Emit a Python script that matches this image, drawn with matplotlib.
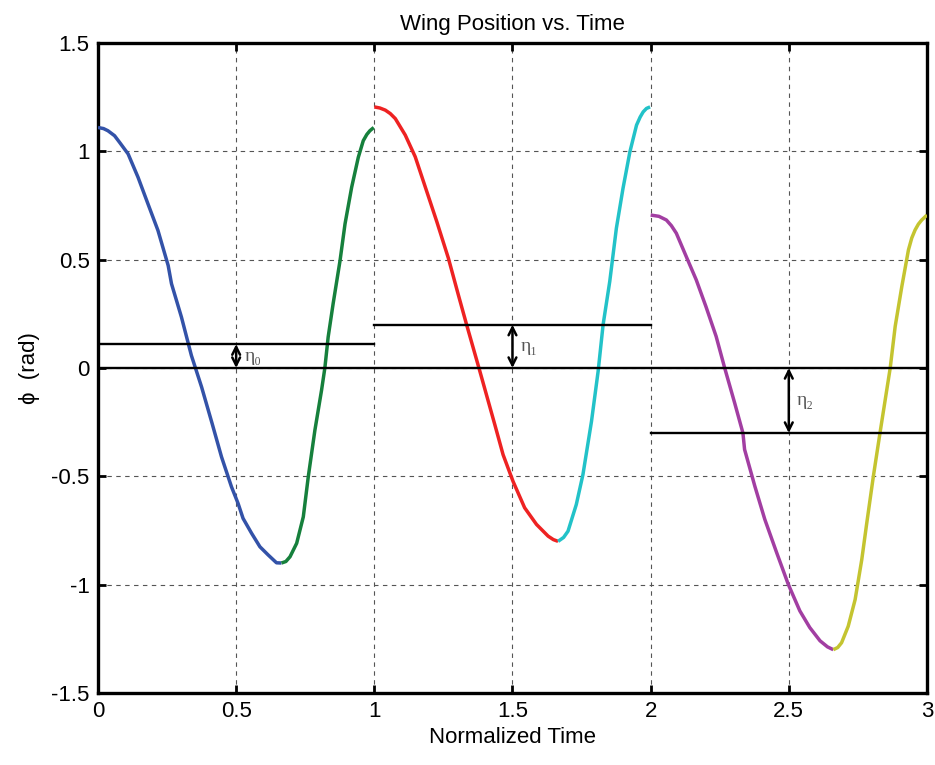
import matplotlib.pyplot as plt

plt.rcParams['font.family'] = ['Liberation Sans Narrow', 'Liberation Sans', 'DejaVu Sans']

# stroke curves (time, phi)
down0_t = [0.0, 0.02, 0.036, 0.06, 0.079, 0.109, 0.145, 0.181, 0.217, 0.254, 0.266, 0.302, 0.338,
           0.375, 0.413, 0.447, 0.483, 0.507, 0.525, 0.556, 0.586, 0.616, 0.646, 0.664]
down0_y = [1.11, 1.105, 1.095, 1.072, 1.04, 0.988, 0.88, 0.757, 0.635, 0.473, 0.389, 0.235, 0.058,
           -0.088, -0.256, -0.41, -0.548, -0.625, -0.694, -0.763, -0.825, -0.863, -0.899, -0.90]
up0_t = [0.664, 0.68, 0.695, 0.719, 0.743, 0.761, 0.785, 0.809, 0.821, 0.833, 0.851, 0.876, 0.894,
         0.918, 0.942, 0.96, 0.973, 0.984, 0.998]
up0_y = [-0.90, -0.893, -0.871, -0.809, -0.687, -0.502, -0.287, -0.103, 0.0, 0.143, 0.297, 0.496,
         0.665, 0.834, 0.972, 1.049, 1.078, 1.095, 1.11]

down1_t = [1.0, 1.02, 1.04, 1.058, 1.076, 1.112, 1.148, 1.178, 1.226, 1.268, 1.304, 1.334, 1.382,
           1.436, 1.466, 1.502, 1.544, 1.587, 1.629, 1.648, 1.665]
down1_y = [1.205, 1.2, 1.19, 1.174, 1.151, 1.075, 0.975, 0.86, 0.676, 0.507, 0.338, 0.2, -0.015,
           -0.261, -0.4, -0.523, -0.645, -0.722, -0.776, -0.792, -0.80]
up1_t = [1.665, 1.685, 1.701, 1.731, 1.755, 1.786, 1.81, 1.828, 1.852, 1.876, 1.9, 1.925, 1.949,
         1.962, 1.973, 1.985, 1.998]
up1_y = [-0.80, -0.782, -0.753, -0.63, -0.492, -0.246, -0.015, 0.2, 0.399, 0.645, 0.829, 0.998,
         1.121, 1.158, 1.182, 1.198, 1.205]

down2_t = [2.0, 2.03, 2.057, 2.075, 2.093, 2.129, 2.165, 2.2, 2.237, 2.268, 2.304, 2.334, 2.34,
           2.377, 2.413, 2.456, 2.498, 2.54, 2.576, 2.613, 2.64, 2.661]
down2_y = [0.706, 0.70, 0.683, 0.657, 0.622, 0.514, 0.407, 0.284, 0.146, 0.0, -0.161, -0.3, -0.376,
           -0.545, -0.698, -0.852, -0.998, -1.121, -1.198, -1.259, -1.287, -1.30]
up2_t = [2.661, 2.677, 2.691, 2.715, 2.74, 2.764, 2.782, 2.806, 2.83, 2.867, 2.885, 2.909, 2.933,
         2.945, 2.957, 2.969, 2.981, 3.0]
up2_y = [-1.30, -1.29, -1.268, -1.192, -1.069, -0.885, -0.717, -0.5, -0.3, 0.0, 0.192, 0.376,
         0.545, 0.600, 0.637, 0.664, 0.683, 0.706]

# mean offset of each cycle
cycle_start = [0, 1, 2]
eta_level = [0.11, 0.2, -0.3]
eta_names = ['η₀', 'η₁', 'η₂']

fig = plt.figure(figsize=(9.35, 7.65), dpi=100)
ax = fig.add_axes([0.1048, 0.0941, 0.8866, 0.8497])

curves = [(down0_t, down0_y, '#3352a8'), (up0_t, up0_y, '#16803c'),
          (down1_t, down1_y, '#ee2222'), (up1_t, up1_y, '#22c2c8'),
          (down2_t, down2_y, '#a23ea2'), (up2_t, up2_y, '#c4c430')]
for t, y, c in curves:
    ax.plot(t, y, color=c, lw=2.5, solid_capstyle='butt', solid_joinstyle='round', zorder=3)

# zero line across the whole plot
ax.plot([0, 3], [0, 0], color='black', lw=1.7, zorder=4)
for x0, lvl, name in zip(cycle_start, eta_level, eta_names):
    ax.plot([x0, x0 + 1], [lvl, lvl], color='black', lw=1.7, zorder=4)
    ax.annotate('', xy=(x0 + 0.5, lvl), xytext=(x0 + 0.5, 0),
                arrowprops=dict(arrowstyle='<->', color='black', lw=1.8,
                                shrinkA=0, shrinkB=0, mutation_scale=14), zorder=5)
    ax.text(x0 + 0.53, lvl / 2, name, fontsize=14, color='#555555', va='center', ha='left',
            family=['Liberation Serif', 'DejaVu Serif'])

ax.set_xlim(0, 3)
ax.set_ylim(-1.5, 1.5)
ax.set_xticks([0, 0.5, 1, 1.5, 2, 2.5, 3])
ax.set_xticklabels(['0', '0.5', '1', '1.5', '2', '2.5', '3'])
ax.set_yticks([-1.5, -1, -0.5, 0, 0.5, 1, 1.5])
ax.set_yticklabels(['-1.5', '-1', '-0.5', '0', '0.5', '1', '1.5'])
ax.grid(True, color='#555555', linestyle=(0, (4, 4)), lw=0.8)
ax.tick_params(direction='in', length=6, width=2, labelsize=16, top=True, right=True, pad=6)
for s in ax.spines.values():
    s.set_linewidth(2.4)

ax.set_title('Wing Position vs. Time', fontsize=16, pad=9)
ax.set_xlabel('Normalized Time', fontsize=16, labelpad=3)
ax.set_ylabel('ϕ  (rad)', fontsize=16, labelpad=8)

fig.savefig('out.png', dpi=100)
